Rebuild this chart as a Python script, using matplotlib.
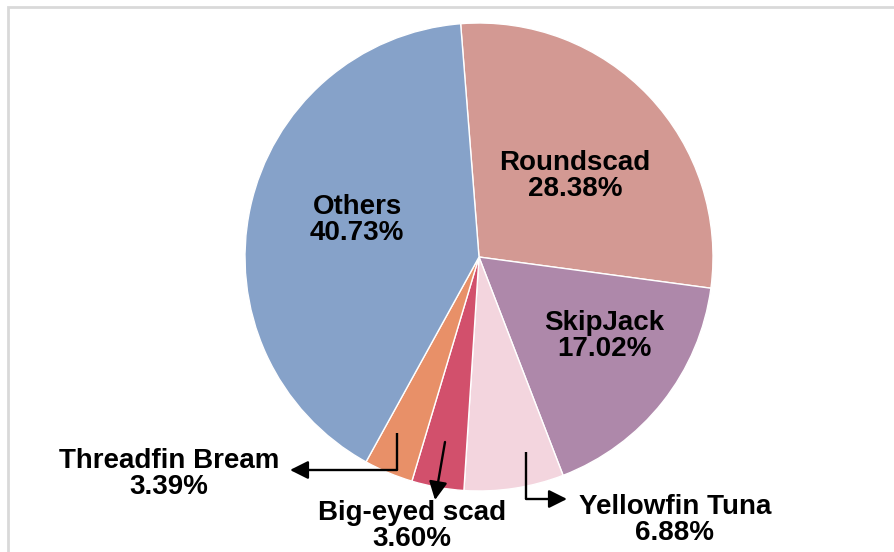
import matplotlib
matplotlib.use("Agg")
import matplotlib.pyplot as plt
from matplotlib.patches import Rectangle

# species share of catch, in clockwise order starting from the top
species = ["Roundscad", "SkipJack", "Yellowfin Tuna", "Big-eyed scad", "Threadfin Bream", "Others"]
shares = [28.38, 17.02, 6.88, 3.60, 3.39, 40.73]
colors = ["#D39993", "#AE88AA", "#F3D5DE", "#D2506C", "#E89068", "#86A2C9"]

W, H = 894, 552
plt.rcParams["font.family"] = ["Liberation Sans", "DejaVu Sans"]

fig = plt.figure(figsize=(W / 100, H / 100), dpi=100)
ax = fig.add_axes([0, 0, 1, 1])

center = (479, H - 257)
radius = 234
ax.pie(
    shares,
    colors=colors,
    startangle=94.5,
    counterclock=False,
    center=center,
    radius=radius,
    wedgeprops=dict(edgecolor="white", linewidth=1.0),
)
ax.set_aspect("auto")
ax.set_xlim(0, W)
ax.set_ylim(0, H)
ax.axis("off")


def label(name, value, x, y):
    ax.text(x, H - y, f"{name}\n{value:.2f}%", ha="center", va="center",
            fontsize=20, fontweight="bold", linespacing=1.0, color="black")


# labels inside the big slices
label("Roundscad", shares[0], 575, 176)
label("SkipJack", shares[1], 604, 336)
label("Others", shares[5], 357, 220)
# labels outside for the small slices
label("Threadfin Bream", shares[4], 169, 474)
label("Big-eyed scad", shares[3], 412, 526)
label("Yellowfin Tuna", shares[2], 675, 520)

arrow = dict(arrowstyle="-|>,head_length=1.1,head_width=0.55", color="black",
             lw=1.7, shrinkA=0, shrinkB=0)


def elbow(points):
    xs = [p[0] for p in points]
    ys = [H - p[1] for p in points]
    ax.plot(xs[:-1], ys[:-1], color="black", lw=1.7, solid_capstyle="butt")
    ax.annotate("", xy=(xs[-1], ys[-1]), xytext=(xs[-2], ys[-2]), arrowprops=arrow)


elbow([(397, 433), (397, 470), (290, 470)])
elbow([(445, 442), (435, 500)])
elbow([(526, 452), (526, 499), (567, 499)])

# light grey frame running off the right and bottom edges
fig.patches.append(Rectangle((7.5 / W, -0.5), 2, 1.5 - 6.5 / H, transform=fig.transFigure,
                             fill=False, edgecolor="#D9D9D9", linewidth=2))

fig.savefig("out.png", dpi=100)
